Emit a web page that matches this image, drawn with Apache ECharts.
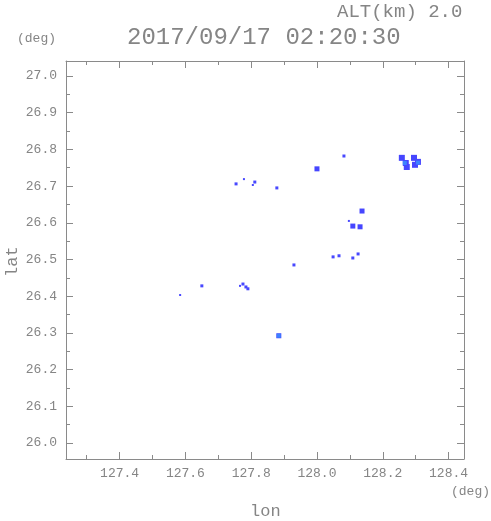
<!DOCTYPE html>
<html>
<head>
<meta charset="utf-8">
<script src="https://cdn.jsdelivr.net/npm/echarts@6/dist/echarts.min.js"></script>
<style>html,body{margin:0;padding:0;background:#fff}#c{width:491px;height:521px}</style>
</head>
<body>
<div id="c"></div>
<script>
// ---- data ----
var titleText = '2017/09/17 02:20:30';
var altText = 'ALT(km) 2.0';
var xMajor = [127.4, 127.6, 127.8, 128.0, 128.2, 128.4];
var xMinor = [127.3, 127.5, 127.7, 127.9, 128.1, 128.3];
var yMajor = [26.0, 26.1, 26.2, 26.3, 26.4, 26.5, 26.6, 26.7, 26.8, 26.9, 27.0];
var yMinor = [25.95, 26.05, 26.15, 26.25, 26.35, 26.45, 26.55, 26.65, 26.75, 26.85, 26.95, 27.05];
var lonRange = [127.237, 128.447];
var latRange = [25.956, 27.041];

var tinyEchoes = [[127.778, 26.719], [127.805, 26.703], [127.584, 26.403], [127.766, 26.428], [128.097, 26.605]];
var smallEchoes = [[128.082, 26.782], [127.754, 26.706], [127.811, 26.711], [127.878, 26.695],
  [127.650, 26.428], [127.775, 26.433], [127.784, 26.425], [127.790, 26.420],
  [128.049, 26.507], [128.067, 26.510], [128.109, 26.504], [128.125, 26.515], [127.930, 26.485]];
var mediumEchoes = [[128.000, 26.747], [128.137, 26.632], [128.109, 26.591], [128.131, 26.589], [127.884, 26.292]];
var largeEchoes = [[128.258, 26.777], [128.270, 26.763], [128.273, 26.752], [128.295, 26.777], [128.307, 26.766], [128.298, 26.758]];
var strongEchoes = [[128.267, 26.763], [128.307, 26.764], [127.884, 26.292]];

// ---- chart ----
var chart = echarts.init(document.getElementById('c'), null, {renderer: 'canvas'});
var FONT = 'Liberation Mono';
var GREY = '#8a8a8a';
var TXT = '#858585';

function xAxisDef(pos, ticks, len, labels, line) {
  return {
    type: 'value', position: pos, min: lonRange[0], max: lonRange[1],
    axisLine: {show: line, onZero: false, lineStyle: {color: GREY, width: 1}},
    axisTick: {show: true, inside: true, length: len, customValues: ticks, lineStyle: {color: GREY}},
    axisLabel: labels ? {show: true, customValues: ticks, margin: 8, color: TXT, fontFamily: FONT, fontSize: 13,
      formatter: function (v) { return v.toFixed(1); }} : {show: false},
    splitLine: {show: false}
  };
}
function yAxisDef(pos, ticks, len, labels, line) {
  return {
    type: 'value', position: pos, min: latRange[0], max: latRange[1],
    axisLine: {show: line, onZero: false, lineStyle: {color: GREY, width: 1}},
    axisTick: {show: true, inside: true, length: len, customValues: ticks, lineStyle: {color: GREY}},
    axisLabel: labels ? {show: true, customValues: ticks, margin: 9, color: TXT, fontFamily: FONT, fontSize: 13,
      formatter: function (v) { return v.toFixed(1); }} : {show: false},
    splitLine: {show: false}
  };
}

function sc(data, size, color, symbol) {
  return {
    type: 'scatter', xAxisIndex: 0, yAxisIndex: 0, data: data,
    symbol: symbol || 'rect', symbolSize: size, itemStyle: {color: color, opacity: 1},
    silent: true, animation: false
  };
}

chart.setOption({
  animation: false,
  backgroundColor: '#fff',
  grid: {left: 66, right: 27, top: 61, bottom: 62, containLabel: false},
  xAxis: [
    xAxisDef('bottom', xMajor, 7, true, true),
    xAxisDef('bottom', xMinor, 4, false, false),
    xAxisDef('top', xMajor, 7, false, true),
    xAxisDef('top', xMinor, 4, false, false)
  ],
  yAxis: [
    yAxisDef('left', yMajor, 7, true, true),
    yAxisDef('left', yMinor, 4, false, false),
    yAxisDef('right', yMajor, 7, false, true),
    yAxisDef('right', yMinor, 4, false, false)
  ],
  series: [
    sc(tinyEchoes, 2, '#4848ff'),
    sc(smallEchoes, 3, '#4848ff'),
    sc(mediumEchoes, 5, '#4646ff'),
    sc(largeEchoes, 6, '#4646ff', 'rect'),
    sc(strongEchoes, 4, '#3c82ff', 'rect')
  ],
  graphic: [
    {type: 'text', left: 337, top: 2, style: {text: altText, font: '19px "' + FONT + '"', fill: TXT}},
    {type: 'text', left: 127, top: 26, style: {text: titleText, font: '24px "' + FONT + '"', fill: TXT}},
    {type: 'text', left: 17, top: 32, style: {text: '(deg)', font: '13px "' + FONT + '"', fill: TXT}},
    {type: 'text', left: 451, top: 485, style: {text: '(deg)', font: '13px "' + FONT + '"', fill: TXT}},
    {type: 'text', left: 250, top: 503, style: {text: 'lon', font: '17px "' + FONT + '"', fill: TXT}},
    {type: 'text', x: 4, y: 277, rotation: Math.PI / 2, style: {text: 'lat', font: '17px "' + FONT + '"', fill: TXT}}
  ]
});
</script>
</body>
</html>
